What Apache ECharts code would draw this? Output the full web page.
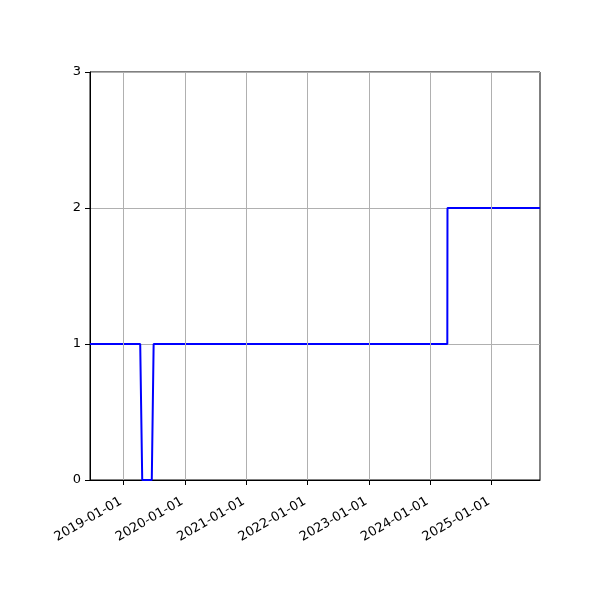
<!DOCTYPE html>
<html>
<head>
<meta charset="utf-8">
<script src="https://cdn.jsdelivr.net/npm/echarts@6/dist/echarts.min.js"></script>
<style>
  html, body { margin: 0; padding: 0; background: #fff; }
  #chart { width: 600px; height: 600px; }
</style>
</head>
<body>
<div id="chart"></div>
<script>
// step series
const DATES = ["2018-06-15", "2019-04-10", "2019-04-22", "2019-06-18", "2019-06-29", "2024-04-12", "2024-04-13", "2025-10-16"];
const VALUES = [1, 1, 0, 0, 1, 1, 2, 2];
const YEAR_TICKS = ["2019-01-01", "2020-01-01", "2021-01-01", "2022-01-01", "2023-01-01", "2024-01-01", "2025-01-01"];

const toTime = (s) => {
  const [y, m, d] = s.split("-").map(Number);
  return Date.UTC(y, m - 1, d);
};

const pad = (n) => String(n).padStart(2, "0");
const fmtDate = (t) => {
  const d = new Date(t);
  return d.getUTCFullYear() + "-" + pad(d.getUTCMonth() + 1) + "-" + pad(d.getUTCDate());
};

const tickTimes = YEAR_TICKS.map(toTime);
const FONT = "DejaVu Sans";

const chart = echarts.init(document.getElementById("chart"));
chart.setOption({
  animation: false,
  backgroundColor: "#fff",
  grid: {
    left: 90, right: 60, top: 72, bottom: 120,
    show: true, borderColor: "#000", borderWidth: 1, backgroundColor: "transparent"
  },
  xAxis: {
    type: "value",
    scale: true,
    min: toTime(DATES[0]),
    max: toTime(DATES[DATES.length - 1]),
    axisLine: { show: true, lineStyle: { color: "#000", width: 1 } },
    axisTick: { show: true, customValues: tickTimes, length: 5, lineStyle: { color: "#000" } },
    axisLabel: {
      customValues: tickTimes,
      formatter: (v) => fmtDate(v),
      rotate: 30,
      color: "#000",
      fontFamily: FONT,
      fontSize: 13,
      margin: 19,
      padding: [0, 3, 0, 0]
    },
    splitLine: { show: false }
  },
  yAxis: {
    type: "value",
    min: 0,
    max: 3,
    interval: 1,
    axisLine: { show: true, lineStyle: { color: "#000", width: 1 } },
    axisTick: { show: true, length: 5, lineStyle: { color: "#000" } },
    axisLabel: { color: "#000", fontFamily: FONT, fontSize: 13, margin: 9 },
    splitLine: { show: true, lineStyle: { color: "#b0b0b0", width: 1 } }
  },
  series: [
    {
      type: "line",
      data: DATES.map((d, i) => [toTime(d), VALUES[i]]),
      showSymbol: false,
      lineStyle: { color: "#0000ff", width: 2 },
      markLine: {
        silent: true,
        symbol: "none",
        label: { show: false },
        lineStyle: { color: "#b0b0b0", width: 1, type: "solid" },
        data: tickTimes.map((t) => ({ xAxis: t }))
      },
      z: 3
    }
  ]
});
</script>
</body>
</html>
